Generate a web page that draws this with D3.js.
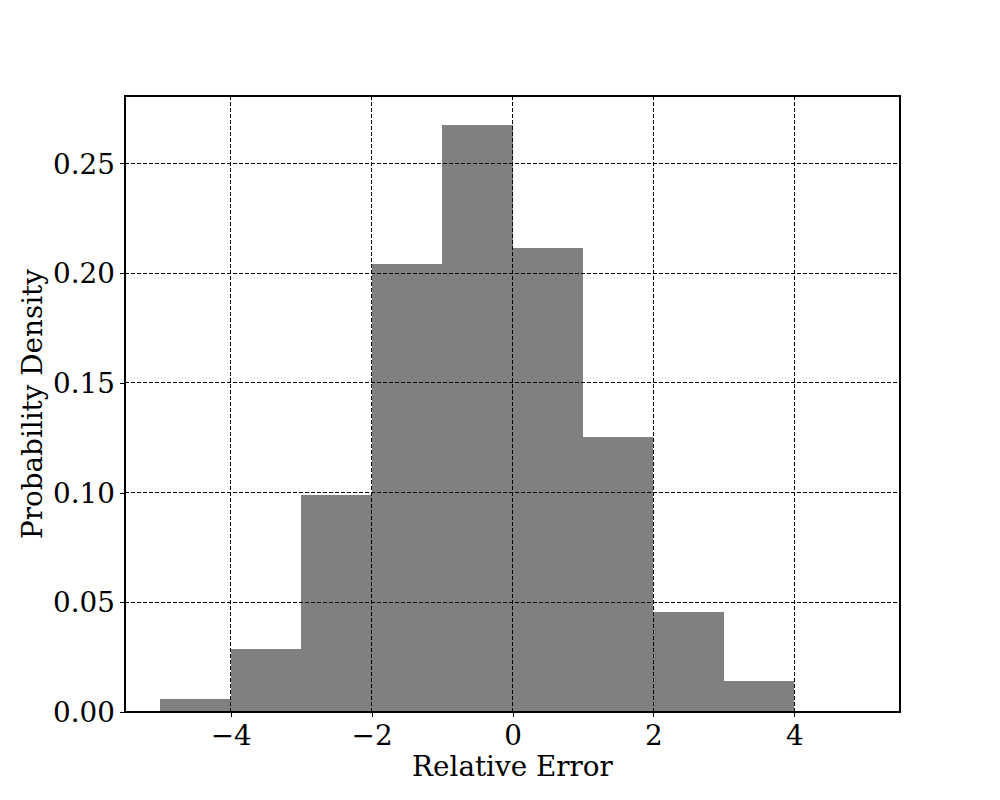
<!DOCTYPE html>
<html><head><meta charset="utf-8">
<script src="https://cdn.jsdelivr.net/npm/d3@7"></script>
<style>body{margin:0;background:#fff}</style>
</head><body>
<svg id="c" width="1000" height="800"></svg>
<script>
const binEdges = [-5,-4,-3,-2,-1,0,1,2,3,4,5];
const densities = [0.0059,0.0287,0.0988,0.2040,0.2673,0.2113,0.1252,0.0455,0.0141,0.0];
const xTicks = [-4,-2,0,2,4];
const yTicks = [0,0.05,0.10,0.15,0.20,0.25];
const xLabel = "Relative Error";
const yLabel = "Probability Density";

const m = {l:125, r:100, t:96, b:88};
const W = 1000, H = 800;
const FS = 27.8;
const svg = d3.select("#c");
const x = d3.scaleLinear().domain([-5.5,5.5]).range([m.l, W-m.r]);
const y = d3.scaleLinear().domain([0, 0.2673*1.05]).range([H-m.b, m.t]);
const font = "'DejaVu Serif', serif";

const bins = densities.map((d,i)=>({x0:binEdges[i], x1:binEdges[i+1], v:d}));
svg.append("g").attr("shape-rendering","crispEdges").selectAll("rect").data(bins.filter(b=>b.v>0)).join("rect")
  .attr("x", d=>x(d.x0)).attr("width", d=>x(d.x1)-x(d.x0))
  .attr("y", d=>y(d.v)).attr("height", d=>y(0)-y(d.v))
  .attr("fill", "#808080");

// grid
const g = svg.append("g").attr("stroke","#000").attr("stroke-width",1).attr("stroke-dasharray","4,2").attr("shape-rendering","crispEdges");
g.selectAll(".gx").data(xTicks).join("line")
  .attr("x1", d=>x(d)).attr("x2", d=>x(d)).attr("y1", y.range()[0]).attr("y2", y.range()[1]);
g.selectAll(".gy").data(yTicks).join("line")
  .attr("y1", d=>y(d)).attr("y2", d=>y(d)).attr("x1", m.l).attr("x2", W-m.r);

// frame
svg.append("rect").attr("x", m.l).attr("y", m.t).attr("width", W-m.l-m.r).attr("height", H-m.t-m.b)
  .attr("fill","none").attr("stroke","#000").attr("stroke-width",1.1).attr("shape-rendering","crispEdges");

const fmtX = d => d<0 ? "\u2212"+Math.abs(d) : String(d);
const xa = svg.append("g").attr("transform",`translate(0,${H-m.b})`)
  .call(d3.axisBottom(x).tickValues(xTicks).tickFormat(fmtX).tickSize(5).tickPadding(5));
const ya = svg.append("g").attr("transform",`translate(${m.l},0)`)
  .call(d3.axisLeft(y).tickValues(yTicks).tickFormat(d3.format(".2f")).tickSize(5).tickPadding(5));
[xa, ya].forEach(a=>{
  a.select(".domain").remove();
  a.selectAll("text").attr("font-family", font).attr("font-size", FS).attr("fill","#000");
  a.selectAll("line").attr("stroke","#000").attr("shape-rendering","crispEdges");
});
xa.selectAll("text").attr("dy","0.84em");
ya.selectAll("text").attr("dy","0.35em");

svg.append("text").attr("x", (x(-5.5)+x(5.5))/2).attr("y", 776)
  .attr("text-anchor","middle").attr("font-family",font).attr("font-size",FS).text(xLabel);
svg.append("text").attr("transform",`translate(42,${(y.range()[0]+y.range()[1])/2}) rotate(-90)`)
  .attr("text-anchor","middle").attr("font-family",font).attr("font-size",FS).text(yLabel);
</script>
</body></html>
